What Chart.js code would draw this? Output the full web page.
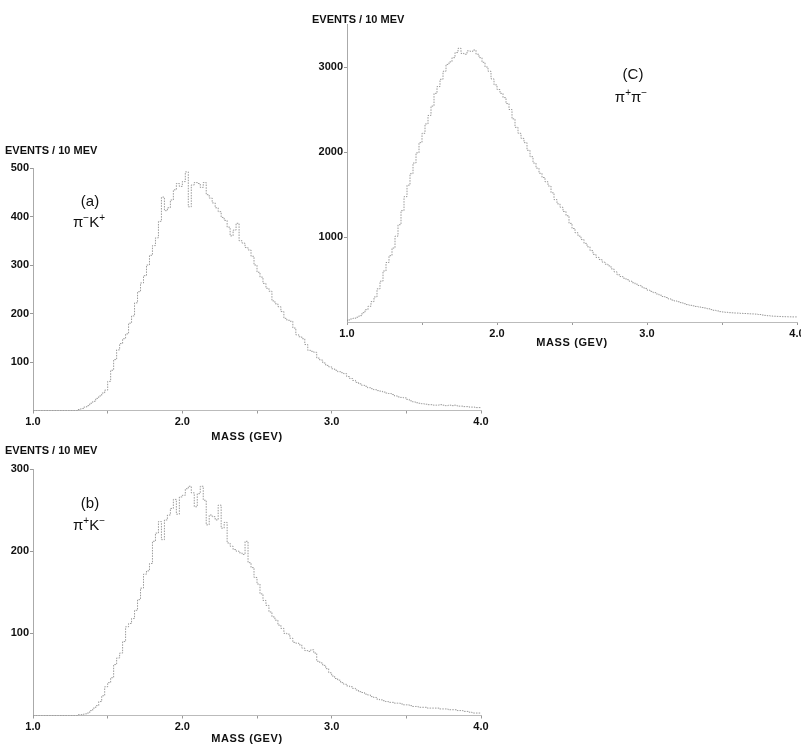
<!DOCTYPE html>
<html><head><meta charset="utf-8">
<script src="https://cdn.jsdelivr.net/npm/chart.js@4"></script>
<style>
body{margin:0;width:801px;height:744px;background:#fff;position:relative;overflow:hidden;font-family:"Liberation Sans Narrow","Liberation Sans",Arial,sans-serif;}
canvas{position:absolute;}
.lab{position:absolute;white-space:nowrap;color:#111;transform:translate(-50%,-50%);line-height:1;}
.ev{font-weight:bold;font-size:11px;transform:translate(0,-50%);}
.tag{font-size:15px;font-family:"Liberation Sans",Arial,sans-serif;}
.tag sup{font-size:10px;vertical-align:6px;}
.ms{font-weight:bold;font-size:11px;letter-spacing:0.6px;}
</style></head>
<body>
<canvas id="cc" style="left:300px;top:0px;width:501px;height:350px" width="501" height="350"></canvas>
<canvas id="ca" style="left:0px;top:140px;width:500px;height:310px" width="500" height="310"></canvas>
<canvas id="cb" style="left:0px;top:440px;width:500px;height:304px" width="500" height="304"></canvas>

<div class="lab ev" style="left:5px;top:150px">EVENTS / 10 MEV</div>
<div class="lab tag" style="left:90px;top:200px">(a)</div>
<div class="lab tag" style="left:89px;top:221px">π<sup>−</sup>K<sup>+</sup></div>
<div class="lab ms" style="left:247px;top:436px">MASS (GEV)</div>

<div class="lab ev" style="left:5px;top:450px">EVENTS / 10 MEV</div>
<div class="lab tag" style="left:90px;top:502px">(b)</div>
<div class="lab tag" style="left:89px;top:524px">π<sup>+</sup>K<sup>−</sup></div>
<div class="lab ms" style="left:247px;top:738px">MASS (GEV)</div>

<div class="lab ev" style="left:312px;top:19px">EVENTS / 10 MEV</div>
<div class="lab tag" style="left:633px;top:73px">(C)</div>
<div class="lab tag" style="left:631px;top:96px">π<sup>+</sup>π<sup>−</sup></div>
<div class="lab ms" style="left:572px;top:342px">MASS (GEV)</div>

<script>
// Bin start masses (GeV), 20 MeV steps from 1.00 to 3.98
const massStart = 1.0;
const binWidth = 0.02;
const xTicks = [1.0, 1.5, 2.0, 2.5, 3.0, 3.5, 4.0];

// (a) pi- K+  events / 10 MeV
const seriesA = [
0,0,0,0,0,0,0,0,0,0,0,0,0,0,0,0,
2,4,7,10,15,19,25,30,36,42,60,83,105,125,
138,148,158,180,195,222,245,263,278,300,
320,340,356,390,440,412,418,434,455,468,
462,472,492,420,465,470,468,460,470,445,
438,428,418,410,398,392,378,360,372,386,
350,345,336,331,318,300,285,275,262,252,
246,226,220,214,204,190,186,184,170,156,
152,148,136,124,122,120,108,104,98,93,
90,86,83,80,78,76,70,66,62,58,
55,52,50,47,45,43,41,40,38,36,
35,33,30,28,27,26,23,20,18,16,
15,14,13,12,12,11,11,12,11,10,
11,10,11,9,9,8,8,7,7,6];

// (b) pi+ K-  events / 10 MeV
const seriesB = [
0,0,0,0,0,0,0,0,0,0,0,0,0,0,0,0,
1,1,2,3,6,9,12,17,24,35,40,46,62,70,
76,90,108,112,118,128,141,155,172,176,
185,212,222,236,214,238,244,252,263,245,
266,268,276,279,271,254,270,279,262,232,
244,242,238,256,228,235,210,206,202,200,
198,196,212,186,180,168,160,148,140,134,
126,120,116,110,106,100,99,94,89,88,
86,82,79,78,80,76,66,64,61,57,
52,48,45,43,40,38,36,35,33,31,
29,28,26,25,23,22,20,19,18,17,
16,16,15,15,14,13,13,12,11,11,
10,10,10,9,9,9,9,8,8,8,
7,7,7,6,6,5,5,4,3,3];

// (c) pi+ pi-  events / 10 MeV
const seriesC = [
10,24,35,45,56,75,110,145,185,240,
295,390,480,600,700,780,870,1010,1145,1310,
1475,1610,1745,1870,1990,2110,2220,2330,2430,2540,
2690,2770,2855,2950,3030,3060,3110,3170,3220,3160,
3150,3190,3185,3200,3150,3110,3055,3000,2950,2860,
2790,2735,2690,2640,2570,2500,2390,2290,2220,2160,
2110,2020,1945,1870,1810,1750,1700,1650,1600,1520,
1440,1390,1350,1300,1250,1160,1100,1050,1010,970,
925,885,840,795,760,735,705,680,660,625,
590,555,535,515,498,480,462,445,430,412,
395,375,360,345,330,315,300,288,272,258,
248,238,228,215,205,196,190,183,176,170,
165,155,146,138,130,122,118,114,110,108,
106,105,102,100,98,96,95,93,88,82,
78,74,70,68,66,65,63,62,61,60];

const yTicksA = [100,200,300,400,500];
const yTicksB = [100,200,300];
const yTicksC = [1000,2000,3000];

function toPoints(vals){
  const pts = vals.map((v,i)=>({x: +(massStart + binWidth*i).toFixed(2), y: v}));
  pts.push({x: 4.0, y: vals[vals.length-1]});
  return pts;
}

const tickFont = {family:'"Liberation Sans Narrow","Liberation Sans",Arial,sans-serif', size:11, weight:'bold'};

function makeChart(id, vals, yMax, yTicks, pad, yAxisW, xAxisH){
  return new Chart(document.getElementById(id), {
    type:'line',
    data:{datasets:[{data: toPoints(vals), stepped:'after', borderColor:'rgba(120,120,120,0.75)', borderWidth:1, borderDash:[1.5,1.2], pointRadius:0, fill:false, tension:0}]},
    options:{
      responsive:false, animation:false, devicePixelRatio:1,
      layout:{padding:pad},
      plugins:{legend:{display:false}, tooltip:{enabled:false}},
      scales:{
        x:{type:'linear', min:1.0, max:4.0,
           afterBuildTicks:s=>{ s.ticks = xTicks.map(v=>({value:v})); },
           afterFit:s=>{ s.height = xAxisH; s.paddingLeft=0; s.paddingRight=0; },
           ticks:{autoSkip:false, maxRotation:0, padding:2, color:'#111', font:tickFont,
                  callback:v=> (Math.abs(v-Math.round(v))<1e-6 ? Number(v).toFixed(1) : '')},
           grid:{drawOnChartArea:false, drawTicks:true, tickLength:3, color:'#999'},
           border:{display:true, color:'#bbb', width:1, dash:[1,2]}},
        y:{type:'linear', min:0, max:yMax,
           afterBuildTicks:s=>{ s.ticks = yTicks.map(v=>({value:v})); },
           afterFit:s=>{ s.width = yAxisW; s.paddingTop=0; s.paddingBottom=0; },
           ticks:{autoSkip:false, padding:1, color:'#111', font:tickFont,
                  callback:v=> String(v)},
           grid:{drawOnChartArea:false, drawTicks:true, tickLength:3, color:'#999'},
           border:{display:true, color:'#aaa', width:1, dash:[1,2]}}
      }
    }
  });
}

// (a): chart area x 33..481, y 168..410.5 (page coords); canvas at (0,140) 500x310
makeChart('ca', seriesA, 500, yTicksA, {top:28, right:19, bottom:19.5, left:0}, 33, 20);
// (b): chart area x 33..481, y 469..715.5; canvas at (0,440) 500x304
makeChart('cb', seriesB, 300, yTicksB, {top:29, right:19, bottom:8.5, left:0}, 33, 20);
// (c): chart area x 347..797, y 24.5..322; canvas at (300,0) 501x350
makeChart('cc', seriesC, 3500, yTicksC, {top:24.5, right:4, bottom:8, left:0}, 47, 20);
</script>
</body></html>
